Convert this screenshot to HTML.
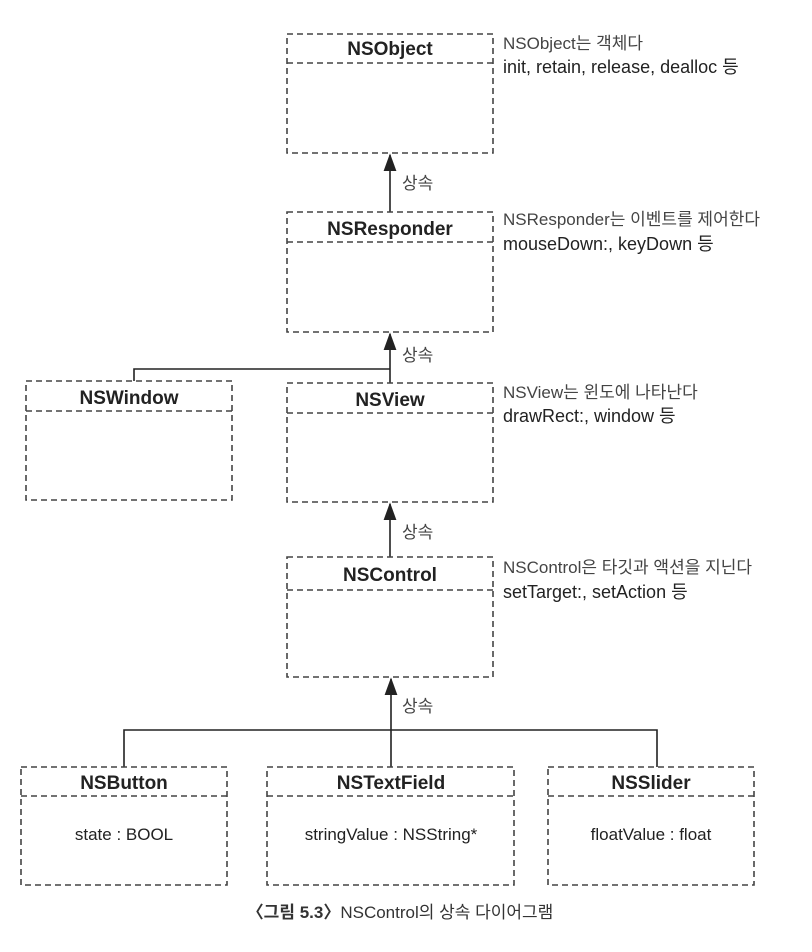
<!DOCTYPE html>
<html><head><meta charset="utf-8"><style>
html,body{margin:0;padding:0;background:#fff;}
svg{display:block;}
.t{font-family:"Liberation Sans","Noto Sans CJK KR",sans-serif;font-weight:bold;font-size:19px;fill:#222;text-anchor:middle;}
.a{font-family:"Liberation Sans","Noto Sans CJK KR",sans-serif;font-size:17px;fill:#444;}
.b{font-family:"Liberation Sans","Noto Sans CJK KR",sans-serif;font-size:18px;fill:#222;}
.m{font-family:"Liberation Sans","Noto Sans CJK KR",sans-serif;font-size:17px;fill:#222;text-anchor:middle;}
.box{fill:none;stroke:#444;stroke-width:1.6;stroke-dasharray:6,4;}
.ln{fill:none;stroke:#222;stroke-width:1.6;}
</style></head><body>
<svg width="812" height="952" viewBox="0 0 812 952" xmlns="http://www.w3.org/2000/svg">
<defs><marker id="ar" markerWidth="8" markerHeight="12" refX="4" refY="1" orient="0"><path d="M0,11 L4,0 L8,11 Z" fill="#222"/></marker></defs>

<!-- NSObject -->
<rect class="box" x="287" y="34" width="206" height="119"/>
<line class="box" x1="287" y1="63" x2="493" y2="63"/>
<text class="t" x="390" y="55">NSObject</text>
<text class="a" x="503" y="49">NSObject는 객체다</text>
<text class="b" x="503" y="73">init, retain, release, dealloc 등</text>
<line class="ln" x1="390" y1="212" x2="390" y2="155" marker-end="url(#ar)"/>
<text class="a" x="402" y="189">상속</text>

<!-- NSResponder -->
<rect class="box" x="287" y="212" width="206" height="120"/>
<line class="box" x1="287" y1="242" x2="493" y2="242"/>
<text class="t" x="390" y="235">NSResponder</text>
<text class="a" x="503" y="225">NSResponder는 이벤트를 제어한다</text>
<text class="b" x="503" y="250">mouseDown:, keyDown 등</text>

<!-- connector to NSWindow/NSView -->
<polyline class="ln" points="134,381 134,369 390,369"/>
<line class="ln" x1="390" y1="383" x2="390" y2="334" marker-end="url(#ar)"/>
<text class="a" x="402" y="361">상속</text>

<!-- NSWindow -->
<rect class="box" x="26" y="381" width="206" height="119"/>
<line class="box" x1="26" y1="411" x2="232" y2="411"/>
<text class="t" x="129" y="404">NSWindow</text>

<!-- NSView -->
<rect class="box" x="287" y="383" width="206" height="119"/>
<line class="box" x1="287" y1="413" x2="493" y2="413"/>
<text class="t" x="390" y="406">NSView</text>
<text class="a" x="503" y="398">NSView는 윈도에 나타난다</text>
<text class="b" x="503" y="422">drawRect:, window 등</text>

<line class="ln" x1="390" y1="557" x2="390" y2="504" marker-end="url(#ar)"/>
<text class="a" x="402" y="538">상속</text>

<!-- NSControl -->
<rect class="box" x="287" y="557" width="206" height="120"/>
<line class="box" x1="287" y1="590" x2="493" y2="590"/>
<text class="t" x="390" y="581">NSControl</text>
<text class="a" x="503" y="573">NSControl은 타깃과 액션을 지닌다</text>
<text class="b" x="503" y="598">setTarget:, setAction 등</text>

<!-- bottom connector -->
<polyline class="ln" points="124,767 124,730 657,730 657,767"/>
<line class="ln" x1="391" y1="767" x2="391" y2="679" marker-end="url(#ar)"/>
<text class="a" x="402" y="712">상속</text>

<!-- NSButton -->
<rect class="box" x="21" y="767" width="206" height="118"/>
<line class="box" x1="21" y1="796" x2="227" y2="796"/>
<text class="t" x="124" y="789">NSButton</text>
<text class="m" x="124" y="840">state : BOOL</text>

<!-- NSTextField -->
<rect class="box" x="267" y="767" width="247" height="118"/>
<line class="box" x1="267" y1="796" x2="514" y2="796"/>
<text class="t" x="391" y="789">NSTextField</text>
<text class="m" x="391" y="840">stringValue : NSString*</text>

<!-- NSSlider -->
<rect class="box" x="548" y="767" width="206" height="118"/>
<line class="box" x1="548" y1="796" x2="754" y2="796"/>
<text class="t" x="651" y="789">NSSlider</text>
<text class="m" x="651" y="840">floatValue : float</text>

<!-- caption -->
<text x="400" y="918" style="font-family:'Liberation Sans','Noto Sans CJK KR',sans-serif;font-size:17px;fill:#333;text-anchor:middle;"><tspan font-weight="bold">〈그림 5.3〉</tspan>NSControl의 상속 다이어그램</text>
</svg>
</body></html>
